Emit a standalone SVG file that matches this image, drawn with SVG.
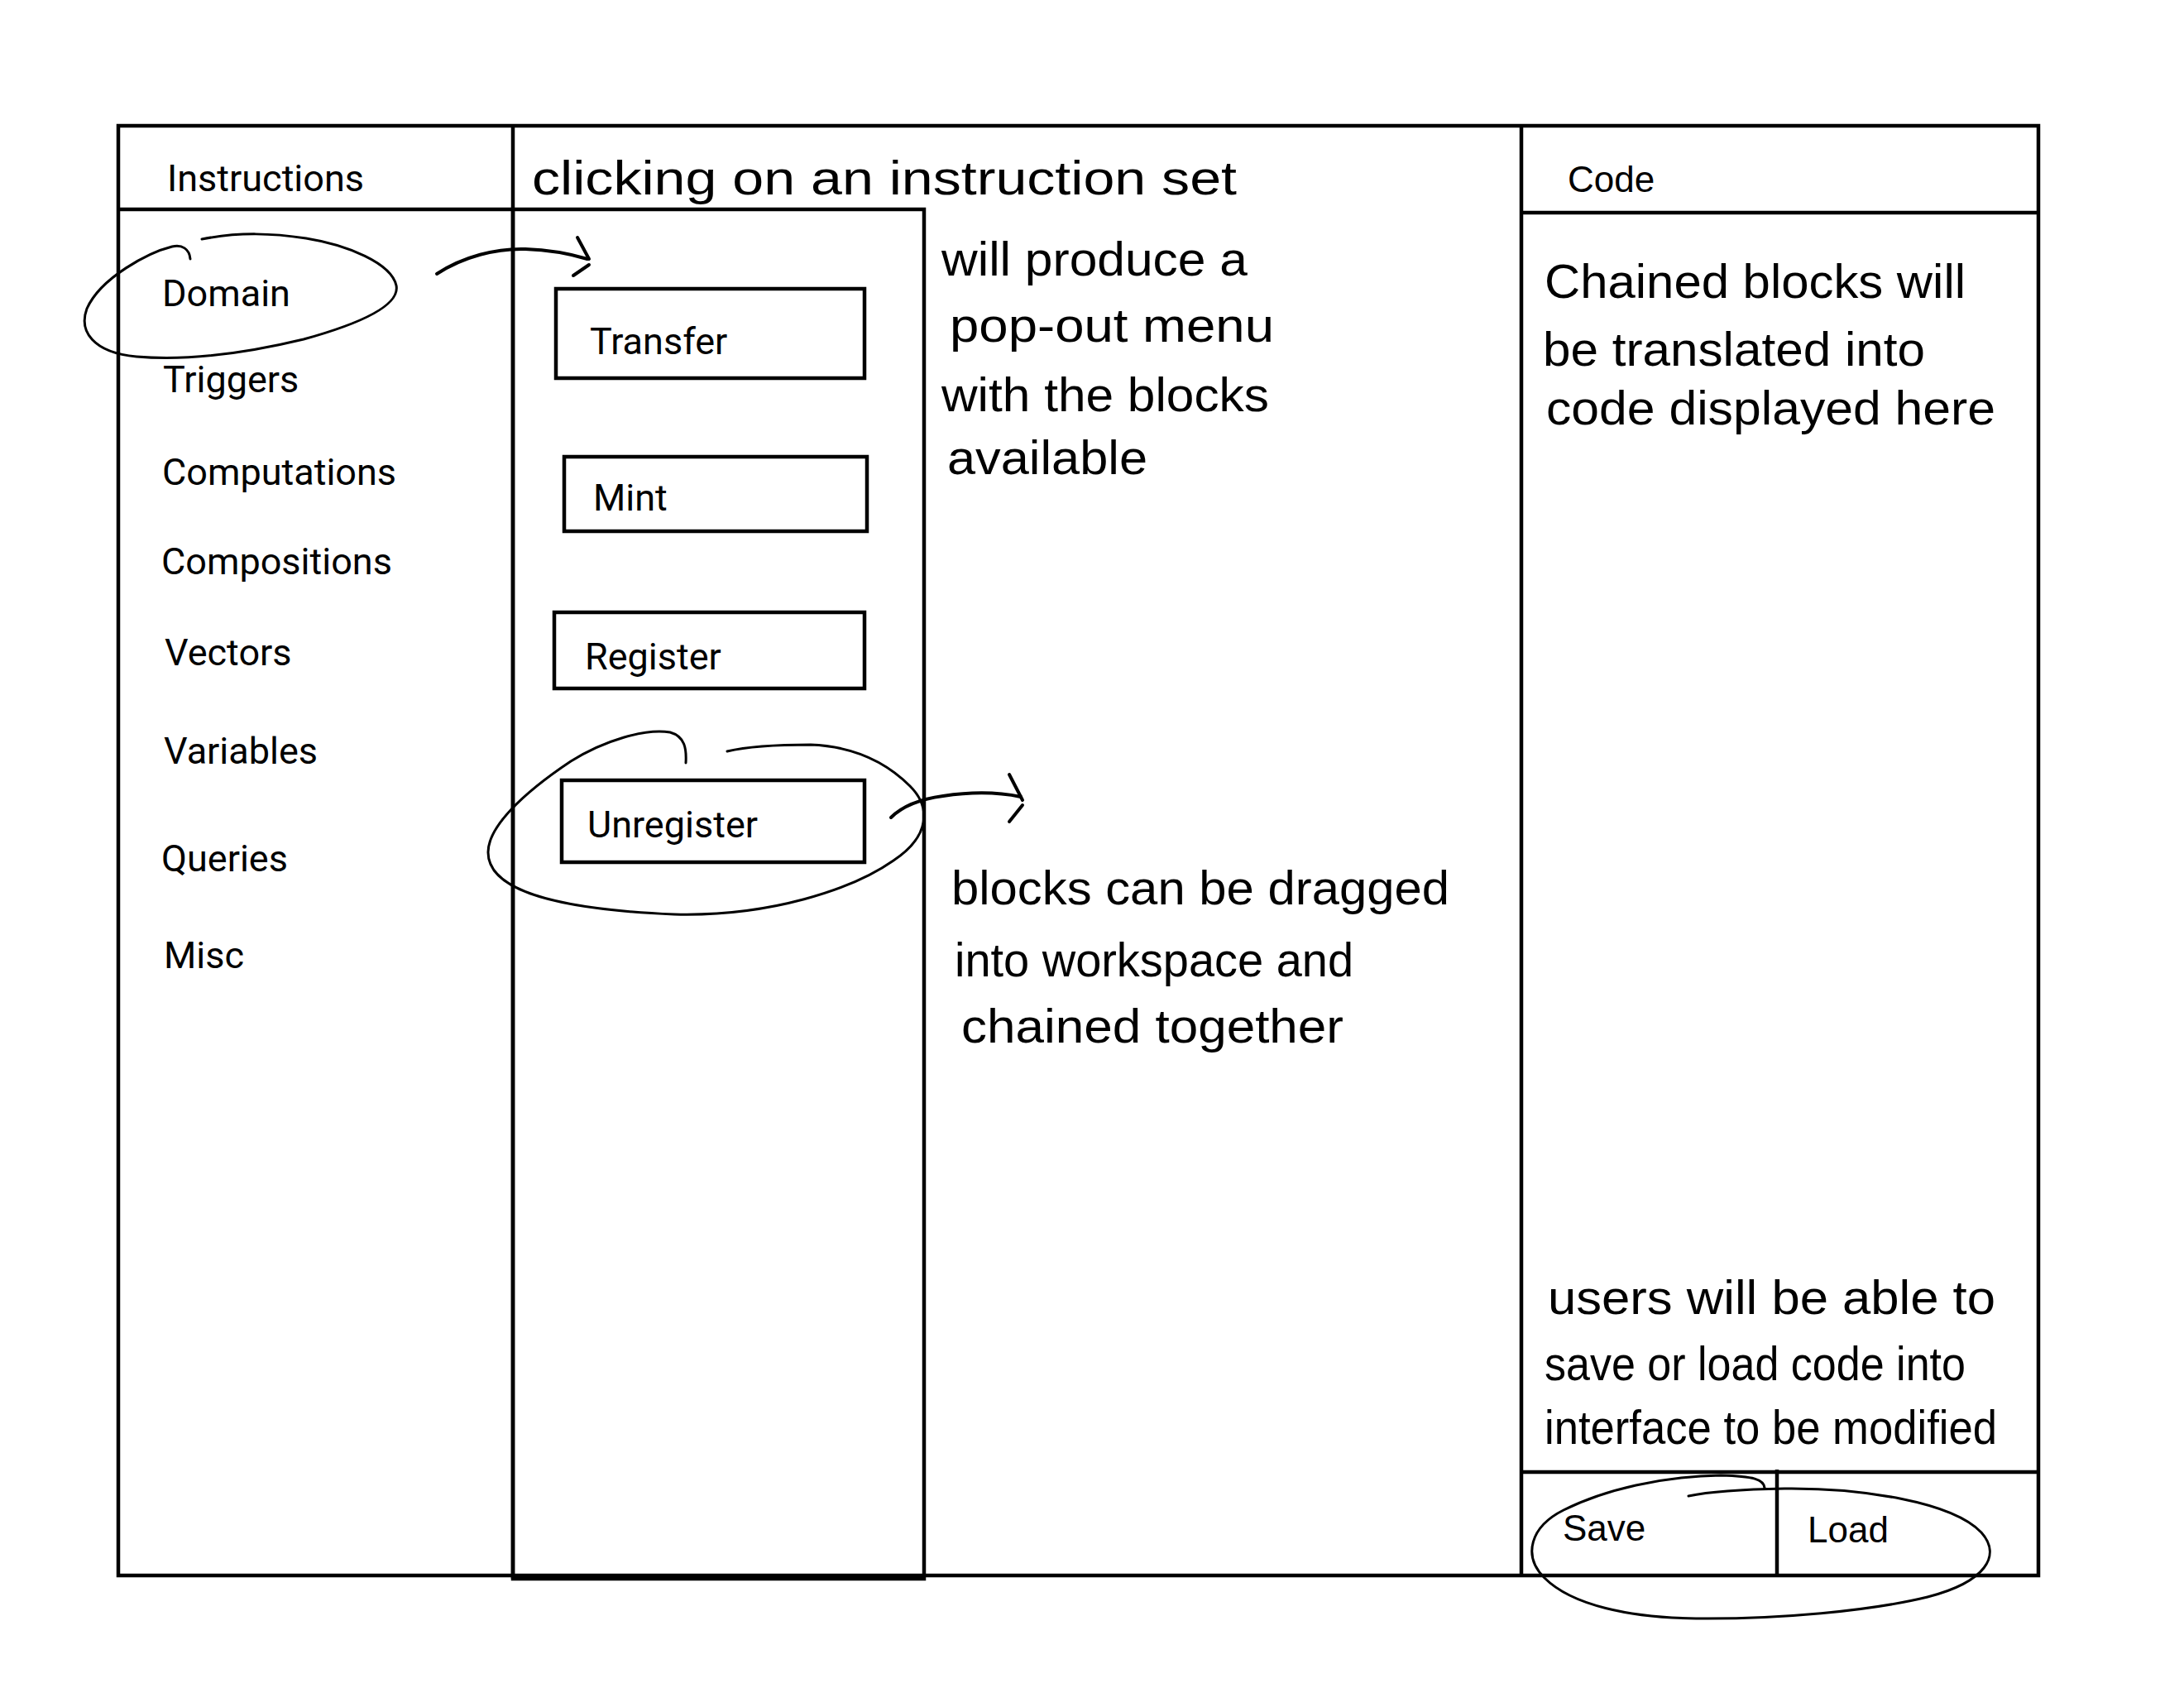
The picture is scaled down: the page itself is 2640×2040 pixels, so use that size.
<svg xmlns="http://www.w3.org/2000/svg" width="2640" height="2040" viewBox="0 0 2640 2040">
<style>
.frame{fill:none;stroke:#000;stroke-width:4.5}
.block{fill:#fff;stroke:#000;stroke-width:4.5}
.lbl{font-family:Roboto,"Liberation Sans",sans-serif;font-size:45px;fill:#000}
.lbl2{font-family:"Liberation Sans",Arial,sans-serif;font-size:44px;fill:#000}
.hand{font-family:"Liberation Sans",Arial,sans-serif;font-size:58px;fill:#000}
.mark{fill:none;stroke:#000;stroke-width:3;stroke-linecap:round}
.arrow{fill:none;stroke:#000;stroke-width:4;stroke-linecap:round}
</style>
<rect width="2640" height="2040" fill="#fff"/>
<g id="frame">
  <rect class="frame" x="143" y="152" width="2321" height="1752"/>
</g>
<g id="instructions-panel">
  <line class="frame" x1="620" y1="152" x2="620" y2="1908"/>
  <line class="frame" x1="143" y1="253" x2="620" y2="253"/>
  <text class="lbl" x="202" y="231">Instructions</text>
  <text class="lbl" x="196" y="370">Domain</text>
  <text class="lbl" x="197" y="474">Triggers</text>
  <text class="lbl" x="196" y="586">Computations</text>
  <text class="lbl" x="195" y="694">Compositions</text>
  <text class="lbl" x="199" y="804">Vectors</text>
  <text class="lbl" x="198" y="923">Variables</text>
  <text class="lbl" x="195" y="1053">Queries</text>
  <text class="lbl" x="198" y="1170">Misc</text>
</g>
<g id="popout-menu">
  <rect class="frame" x="620" y="253" width="497" height="1655"/>
</g>
<g id="block-transfer">
  <rect class="block" x="672" y="349" width="373" height="108"/>
  <text class="lbl" x="713" y="428">Transfer</text>
</g>
<g id="block-mint">
  <rect class="block" x="682" y="552" width="366" height="90"/>
  <text class="lbl" x="717" y="617">Mint</text>
</g>
<g id="block-register">
  <rect class="block" x="670" y="740" width="375" height="92"/>
  <text class="lbl" x="707" y="809">Register</text>
</g>
<g id="block-unregister">
  <rect class="block" x="679" y="943" width="366" height="99"/>
  <text class="lbl" x="710" y="1012">Unregister</text>
</g>
<g id="code-panel">
  <line class="frame" x1="1839" y1="152" x2="1839" y2="1904"/>
  <line class="frame" x1="1839" y1="257" x2="2464" y2="257"/>
  <text class="lbl2" x="1895" y="232">Code</text>
</g>
<g id="save-load">
  <line class="frame" x1="1839" y1="1779" x2="2464" y2="1779"/>
  <line class="frame" x1="2148" y1="1776" x2="2148" y2="1902"/>
  <text class="lbl2" x="1889" y="1862">Save</text>
  <text class="lbl2" x="2185" y="1864">Load</text>
</g>
<g id="highlights">
  <path class="mark" d="M230,313 C229,301 220,295 208,298 C180,305 122,335 105,373 C95,400 112,426 165,431 C235,437 305,425 367,410 C432,392 484,370 479,345 C473,318 420,296 370,288 C330,282 290,280 244,289"/>
  <path class="mark" d="M829,922 C830,905 828,890 810,885 C780,880 730,895 690,920 C630,960 590,1000 590,1030 C590,1070 650,1098 815,1105 C930,1108 1030,1075 1080,1040 C1125,1010 1125,975 1100,950 C1070,920 1030,902 980,900 C940,900 900,903 879,908"/>
  <path class="mark" d="M2133,1798 C2132,1788 2120,1784 2080,1783 C2010,1784 1940,1800 1890,1825 C1850,1845 1840,1880 1867,1907 C1900,1940 1970,1955 2050,1956 C2150,1957 2260,1947 2330,1930 C2400,1912 2420,1880 2395,1852 C2360,1815 2250,1798 2157,1799 C2100,1800 2060,1804 2041,1808"/>
</g>
<g id="connectors">
  <path class="arrow" d="M528,331 C560,310 600,300 635,301 C665,302 690,307 710,313"/>
  <path class="arrow" d="M698,287 L712,313 M712,320 L693,333"/>
  <path class="arrow" d="M1077,988 C1090,975 1110,966 1140,962 C1180,956 1210,958 1234,963"/>
  <path class="arrow" d="M1220,936 L1236,967 M1236,973 L1220,993"/>
</g>
<g id="notes">
  <text class="hand" x="643" y="235" textLength="852" lengthAdjust="spacingAndGlyphs">clicking on an instruction set</text>
  <text class="hand" x="1138" y="333" textLength="370" lengthAdjust="spacingAndGlyphs">will produce a</text>
  <text class="hand" x="1148" y="413" textLength="392" lengthAdjust="spacingAndGlyphs">pop-out menu</text>
  <text class="hand" x="1138" y="497" textLength="396" lengthAdjust="spacingAndGlyphs">with the blocks</text>
  <text class="hand" x="1145" y="573" textLength="242" lengthAdjust="spacingAndGlyphs">available</text>
  <text class="hand" x="1867" y="360" textLength="509" lengthAdjust="spacingAndGlyphs">Chained blocks will</text>
  <text class="hand" x="1865" y="442" textLength="462" lengthAdjust="spacingAndGlyphs">be translated into</text>
  <text class="hand" x="1869" y="513" textLength="543" lengthAdjust="spacingAndGlyphs">code displayed here</text>
  <text class="hand" x="1150" y="1093" textLength="602" lengthAdjust="spacingAndGlyphs">blocks can be dragged</text>
  <text class="hand" x="1154" y="1180" textLength="482" lengthAdjust="spacingAndGlyphs">into workspace and</text>
  <text class="hand" x="1162" y="1260" textLength="462" lengthAdjust="spacingAndGlyphs">chained together</text>
  <text class="hand" x="1871" y="1588" textLength="541" lengthAdjust="spacingAndGlyphs">users will be able to</text>
  <text class="hand" x="1867" y="1668" textLength="509" lengthAdjust="spacingAndGlyphs">save or load code into</text>
  <text class="hand" x="1867" y="1745" textLength="547" lengthAdjust="spacingAndGlyphs">interface to be modified</text>
</g>
</svg>
